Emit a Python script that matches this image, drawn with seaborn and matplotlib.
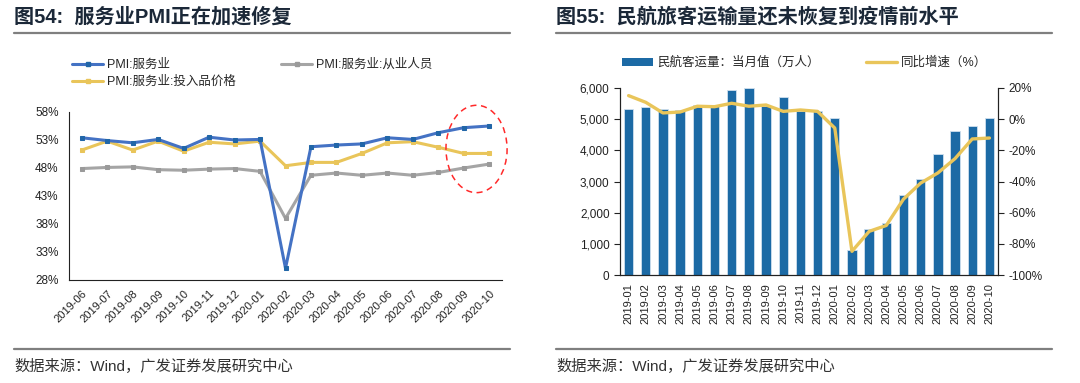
import numpy as np
import pandas as pd
import matplotlib
matplotlib.use('Agg')
import matplotlib.pyplot as plt
import seaborn as sns
from matplotlib.patches import Ellipse, Patch
from matplotlib.lines import Line2D
from matplotlib.ticker import FuncFormatter, MultipleLocator, FixedLocator

# ---- data: left chart (services PMI, %) ----
pmi_months = ['2019-06', '2019-07', '2019-08', '2019-09', '2019-10', '2019-11', '2019-12',
              '2020-01', '2020-02', '2020-03', '2020-04', '2020-05', '2020-06', '2020-07',
              '2020-08', '2020-09', '2020-10']
pmi_services = [53.4, 52.9, 52.5, 53.1, 51.5, 53.5, 53.0, 53.1, 30.1, 51.8, 52.1, 52.3,
                53.4, 53.1, 54.3, 55.2, 55.5]
pmi_employment = [47.9, 48.1, 48.2, 47.7, 47.6, 47.8, 47.9, 47.4, 39.0, 46.7, 47.1, 46.7,
                  47.1, 46.7, 47.2, 48.0, 48.7]
pmi_input_price = [51.2, 52.8, 51.2, 52.8, 51.0, 52.6, 52.3, 52.8, 48.4, 49.0, 49.0, 50.6,
                   52.5, 52.7, 51.7, 50.6, 50.6]
pmi_yticks = [28, 33, 38, 43, 48, 53, 58]
pmi_names = ['PMI:服务业', 'PMI:服务业:从业人员', 'PMI:服务业:投入品价格']

# ---- data: right chart (air passengers) ----
air_months = ['2019-01', '2019-02', '2019-03', '2019-04', '2019-05', '2019-06', '2019-07',
              '2019-08', '2019-09', '2019-10', '2019-11', '2019-12', '2020-01', '2020-02',
              '2020-03', '2020-04', '2020-05', '2020-06', '2020-07', '2020-08', '2020-09',
              '2020-10']
air_passengers = [5340, 5390, 5340, 5305, 5455, 5410, 5935, 5995, 5410, 5700, 5250, 5250,
                  5040, 815, 1490, 1670, 2565, 3080, 3895, 4610, 4770, 5030]
air_yoy = [15.1, 10.8, 4.0, 4.6, 8.3, 8.0, 10.2, 8.3, 9.1, 5.0, 5.9, 5.0,
           -5.7, -84.8, -72.0, -68.2, -51.3, -41.0, -34.5, -25.3, -12.7, -12.1]
air_names = ['民航客运量：当月值（万人）', '同比增速（%）']

sns.set_style('white')
plt.rcParams['font.family'] = ['Liberation Sans', 'Noto Sans CJK SC', 'DejaVu Sans']
plt.rcParams['axes.unicode_minus'] = False

blue = '#4472C4'
blue_mk = '#2166A8'
grey = '#A5A5A5'
yellow = '#E9C55A'
bar_blue = '#1C6AA5'
title_col = '#1B2838'

fig = plt.figure(figsize=(10.8, 3.83), dpi=100)
W, H = 1080, 383

def fx(px):
    return px / W

def fy(py):
    return 1 - py / H

# titles, rules and source notes for both panels
for x0, x1, title in [(14, 510, '图54:  服务业PMI正在加速修复'),
                      (556, 1052, '图55:  民航旅客运输量还未恢复到疫情前水平')]:
    fig.text(fx(x0), fy(17), title, fontsize=14.5, fontweight='bold', color=title_col,
             va='center', ha='left')
    fig.add_artist(Line2D([fx(x0), fx(x1)], [fy(33), fy(33)], color='#7F7F7F', lw=1.6))
    fig.add_artist(Line2D([fx(x0), fx(x1)], [fy(349), fy(349)], color='#7F7F7F', lw=1.6))
    fig.text(fx(x0), fy(366), '数据来源：Wind，广发证券发展研究中心', fontsize=11,
             color='#333333', va='center', ha='left')

# ---- left chart ----
ax1 = fig.add_axes([fx(69), fy(280), fx(502) - fx(69), (280 - 112) / H])
idx = np.arange(len(pmi_months))
pmi_df = pd.DataFrame({'idx': idx, pmi_names[0]: pmi_services,
                       pmi_names[1]: pmi_employment, pmi_names[2]: pmi_input_price})
series_style = [(pmi_names[0], blue, blue_mk), (pmi_names[2], yellow, yellow),
                (pmi_names[1], grey, '#9A9A9A')]
handles = []
for name, col, mk in series_style:
    sns.lineplot(data=pmi_df, x='idx', y=name, ax=ax1, color=col, lw=2.2, marker='s',
                 markersize=3.2, markerfacecolor=mk, markeredgecolor=mk,
                 zorder=3 if name == pmi_names[0] else 2)
    handles.append(Line2D([], [], color=col, lw=2.2, marker='s', markersize=3,
                          markerfacecolor=mk, markeredgecolor=mk))
ax1.set_xlim(-0.5, len(pmi_months) - 0.5)
ax1.set_ylim(pmi_yticks[0], pmi_yticks[-1])
ax1.yaxis.set_major_locator(FixedLocator(pmi_yticks))
ax1.yaxis.set_major_formatter(FuncFormatter(lambda v, p: f'{v:.0f}%'))
ax1.set_xticks(idx)
ax1.set_xticklabels(pmi_months, rotation=45, ha='right', va='top', rotation_mode='anchor')
ax1.xaxis.set_minor_locator(FixedLocator(np.arange(-0.5, len(pmi_months), 1)))
ax1.tick_params(axis='x', which='major', length=0, pad=6, labelsize=8, colors='#222222')
ax1.tick_params(axis='x', which='minor', length=4, width=0.8, direction='out', color='#222222')
ax1.tick_params(axis='y', length=4, width=0.8, direction='out', labelsize=8.5, colors='#222222')
ax1.set_xlabel('')
ax1.set_ylabel('')
for s in ['top', 'right']:
    ax1.spines[s].set_visible(False)
for s in ['left', 'bottom']:
    ax1.spines[s].set_color('#222222')
    ax1.spines[s].set_linewidth(0.8)
ax1.add_patch(Ellipse((15.5, 51.4), 2.4, 15.6, fill=False, ec='#FF2A2A', lw=1.1,
                      ls=(0, (4, 3)), clip_on=False, zorder=5))
fig.legend(handles, [pmi_names[0], pmi_names[2], pmi_names[1]], ncol=2,
           loc='upper left', bbox_to_anchor=(fx(72), fy(59)), frameon=False,
           fontsize=9, handlelength=2.5, handletextpad=0.3, columnspacing=3.6,
           labelspacing=0.4, borderaxespad=0, borderpad=0)

# ---- right chart ----
ax2 = fig.add_axes([fx(620), fy(275), fx(998) - fx(620), (275 - 88) / H])
air_df = pd.DataFrame({'month': air_months, 'passengers': air_passengers,
                       'yoy': air_yoy, 'idx': np.arange(len(air_months))})
sns.barplot(data=air_df, x='month', y='passengers', color=bar_blue, width=0.55,
            saturation=1, edgecolor='#CFE0EE', linewidth=0.6, ax=ax2)
ax2.set_ylim(0, 6000)
ax2.set_xlim(-0.5, len(air_months) - 0.5)
ax2.yaxis.set_major_locator(MultipleLocator(1000))
ax2.yaxis.set_major_formatter(FuncFormatter(lambda v, p: f'{v:,.0f}'))
ax2.set_xticks(np.arange(len(air_months)))
ax2.set_xticklabels(air_months, rotation=90, ha='center', va='top')
ax2.xaxis.set_minor_locator(FixedLocator(np.arange(-0.5, len(air_months), 1)))
ax2.tick_params(axis='x', which='major', length=0, pad=6, labelsize=8, colors='#222222')
ax2.tick_params(axis='x', which='minor', length=4, width=0.8, direction='out', color='#222222')
ax2.tick_params(axis='y', length=4, width=0.8, direction='out', labelsize=8.5, colors='#222222')
ax2.set_xlabel('')
ax2.set_ylabel('')

ax3 = ax2.twinx()
sns.lineplot(data=air_df, x='idx', y='yoy', ax=ax3, color=yellow, lw=2.4)
ax3.set_ylim(-100, 20)
ax3.set_xlim(-0.5, len(air_months) - 0.5)
ax3.yaxis.set_major_locator(MultipleLocator(20))
ax3.yaxis.set_major_formatter(FuncFormatter(lambda v, p: f'{v:.0f}%'))
ax3.tick_params(axis='y', length=4, width=0.8, direction='out', labelsize=8.5, colors='#222222')
ax3.set_ylabel('')
ax3.set_xlabel('')
for a in (ax2, ax3):
    a.spines['top'].set_visible(False)
    for s in ['left', 'right', 'bottom']:
        a.spines[s].set_color('#222222')
        a.spines[s].set_linewidth(0.8)

r_handles = [Patch(facecolor=bar_blue, edgecolor='none'), Line2D([], [], color=yellow, lw=2.4)]
fig.legend(r_handles, air_names, ncol=2, loc='center left',
           bbox_to_anchor=(fx(622), fy(63)), frameon=False, fontsize=9,
           handlelength=2.5, handleheight=0.55, handletextpad=0.3, columnspacing=3.7,
           borderaxespad=0, borderpad=0)

fig.savefig('out.png', dpi=100)
